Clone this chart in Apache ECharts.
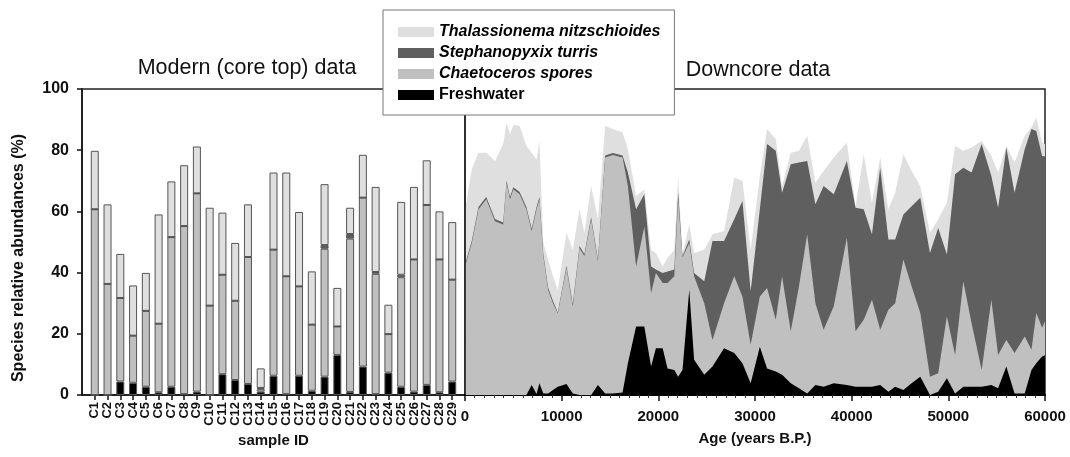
<!DOCTYPE html>
<html>
<head>
<meta charset="utf-8">
<script src="https://cdn.jsdelivr.net/npm/echarts@6/dist/echarts.min.js"></script>
<style>
  html, body { margin: 0; padding: 0; background: #fff; }
  #chart { width: 1070px; height: 457px; }
</style>
</head>
<body>
<div id="chart"></div>
<script>
// ---- Modern (core top) samples ----
const sampleIds = ['C1','C2','C3','C4','C5','C6','C7','C8','C9','C10','C11','C12','C13','C14','C15',
                   'C16','C17','C18','C19','C20','C21','C22','C23','C24','C25','C26','C27','C28','C29'];
const topFreshwater  = [0, 0, 4.4, 4.0, 2.7, 0.9, 2.7, 0.3, 1.1, 0, 6.8, 4.9, 3.6, 1.1, 6.3,
                        0.3, 6.3, 1.4, 6.0, 13.1, 1.0, 9.3, 0.3, 7.3, 2.7, 1.1, 3.3, 0.9, 4.4];
const topChaetoceros = [60.7, 36.3, 27.3, 15.4, 24.8, 22.4, 48.9, 54.9, 64.8, 29.2, 32.5, 25.9, 41.5, 0.8, 41.2,
                        38.5, 29.2, 21.6, 41.8, 9.3, 50.1, 55.2, 39.3, 12.6, 35.8, 43.2, 58.8, 43.4, 33.3];
const topStephano    = [0, 0, 0, 0, 0, 0, 0, 0, 0, 0, 0, 0, 0, 0.4, 0,
                        0, 0, 0, 1.2, 0, 1.5, 0, 0.6, 0, 0.8, 0, 0, 0, 0];
const topThalass     = [19.1, 26.0, 14.4, 16.4, 12.4, 35.7, 18.2, 19.9, 15.3, 32.0, 20.3, 18.9, 17.2, 6.4, 25.2,
                        33.9, 24.3, 17.4, 19.9, 12.6, 8.6, 14.0, 27.8, 9.6, 23.8, 23.7, 14.6, 15.7, 18.8];

// ---- Downcore record (age in years B.P.) ----
const ages = [100, 700, 1400, 2200, 3100, 3950, 4300, 4650, 5000, 5650, 6350, 6900, 7400, 7700, 8100,
              8600, 9100, 9600, 10500, 11150, 11850, 12350, 13050, 13750, 14500, 15300, 16300, 16850, 17700, 18550,
              19250, 19750, 20450, 20950, 21650, 22050, 22500, 23200, 23700, 24750, 25600, 26800, 27850, 28700, 29550,
              30500, 31250, 32150, 32800, 33700, 34550, 35400, 36250, 37100, 38150, 39500, 40400, 41250, 42100, 42950,
              43800, 44500, 45350, 46200, 47100, 48100, 48950, 49850, 50700, 51550, 52400, 53450, 54450, 55150, 56000,
              56850, 57900, 58600, 59100, 59700, 60000];
const coreFreshwater = [0, 0, 0, 0, 0, 0, 0, 0, 0, 0, 0, 3.3, 0.3, 3.8, 0.5,
                        0.5, 1.6, 2.7, 3.6, 0.5, 0, 0, 0, 3.3, 0.5, 0.5, 0.8, 10.4, 22.4, 22.4,
                        9.3, 15.3, 15.3, 8.7, 8.2, 6.0, 8.2, 34.4, 11.5, 6.6, 9.3, 15.3, 13.7, 10.4, 3.8,
                        15.8, 8.7, 7.7, 6.6, 3.8, 2.2, 0.5, 3.3, 2.7, 3.8, 3.3, 2.7, 2.7, 2.7, 3.3,
                        1.1, 2.7, 1.6, 3.8, 6.0, 0, 1.1, 5.5, 0.5, 2.7, 2.7, 2.7, 3.3, 2.2, 9.3,
                        0.5, 0.5, 8.2, 10.4, 12.6, 13.0];
const coreChaetoceros = [43.0, 49.7, 60.7, 64.0, 56.8, 55.7, 69.4, 64.0, 67.2, 65.6, 60.7, 50.3, 60.4, 60.2, 44.9,
                         33.9, 28.4, 23.9, 37.9, 28.5, 48.0, 45.4, 57.4, 40.4, 77.1, 77.9, 76.8, 57.9, 19.6, 32.6,
                         24.0, 24.6, 21.3, 27.9, 30.6, 58.0, 36.8, 15.3, 27.3, 23.4, 8.7, 14.7, 25.1, 21.8, 12.6,
                         16.4, 26.3, 16.9, 32.2, 17.0, 33.3, 52.0, 26.7, 18.6, 25.2, 48.1, 18.1, 21.9, 28.4, 18.0,
                         26.8, 27.3, 42.7, 31.7, 20.8, 6.0, 6.0, 20.2, 12.6, 34.5, 20.8, 5.5, 27.8, 10.9, 8.7,
                         13.2, 18.6, 6.6, 16.4, 9.4, 11.0];
const coreStephano = [0.7, 0.7, 0.7, 0.7, 0.7, 0.7, 0.7, 0.7, 0.7, 0.7, 0.7, 0.7, 0.7, 0.7, 0.7,
                      0.7, 0.7, 0.4, 0.7, 0.7, 0.7, 0.7, 0.7, 0.7, 0.7, 0.7, 0.7, 4.4, 18.7, 10.6,
                      8.7, 1.1, 3.3, 3.8, 2.2, 2.1, 0.4, 1.1, 1.1, 7.2, 32.3, 20.3, 18.6, 31.2, 17.5,
                      28.5, 47.0, 55.2, 27.3, 54.6, 40.5, 24.0, 32.3, 47.0, 36.6, 25.1, 40.4, 36.1, 21.4, 53.0,
                      22.9, 20.8, 14.7, 26.2, 37.7, 40.4, 47.5, 20.2, 59.0, 37.1, 49.2, 73.8, 40.5, 48.1, 62.9,
                      52.4, 61.2, 72.1, 59.5, 56.1, 54.0];
const coreThalass = [18.3, 23.4, 17.8, 14.5, 19.0, 25.6, 18.9, 20.5, 20.3, 21.7, 20.0, 24.9, 15.6, 18.3, 3.6,
                     9.2, 8.1, 7.4, 10.8, 17.8, 12.0, 6.9, 10.2, 13.0, 9.7, 7.8, 7.5, 7.6, 4.3, 1.6,
                     5.5, 5.4, 2.1, 4.4, 6.5, 5.5, 0.5, 4.9, 6.5, 10.3, 2.2, 3.3, 13.6, 6.6, 13.6,
                     10.9, 4.9, 3.8, 2.2, 3.8, 3.8, 8.2, 7.1, 4.9, 12.0, 6.0, 0.5, 18.0, 10.3, 3.3,
                     9.9, 15.3, 19.7, 11.5, 3.8, 6.6, 2.8, 16.9, 9.3, 5.5, 8.2, 1.0, 6.5, 11.5, 0.5,
                     9.9, 4.4, 0.5, 4.4, 4.4, 4.0];

const ageTicks = [0, 10000, 20000, 30000, 40000, 50000, 60000];

const NAMES = {
  th: 'Thalassionema nitzschioides',
  st: 'Stephanopyxix turris',
  ch: 'Chaetoceros spores',
  fw: 'Freshwater'
};
const COLORS = { th: '#dfdfdf', st: '#5f5f5f', ch: '#c0c0c0', fw: '#000000' };

const FONT = '"Liberation Sans", Arial, sans-serif';
const INK = '#111';

// category axis padded with one empty slot each side, so bars sit inset from the frame
const paddedIds = [''].concat(sampleIds, ['']);
const pad = arr => ['-'].concat(arr, ['-']);

function barSeries(key, values) {
  return {
    name: NAMES[key], type: 'bar', stack: 'top', xAxisIndex: 0, yAxisIndex: 0,
    data: pad(values), barWidth: 8,
    itemStyle: { color: COLORS[key], borderColor: '#555', borderWidth: 1 },
    emphasis: { disabled: true }
  };
}

// Downcore layers: each band is filled from the axis up to the running total of the
// layers beneath it plus its own value; upper bands are drawn first so the lower ones cover them.
const coreLayers = [
  ['fw', coreFreshwater],
  ['ch', coreChaetoceros],
  ['st', coreStephano],
  ['th', coreThalass]
];
const running = ages.map(() => 0);
const coreBands = coreLayers.map(([key, values]) => {
  const tops = values.map((v, i) => (running[i] = +(running[i] + v).toFixed(2)));
  return { key, tops };
});

function areaSeries(band, z) {
  return {
    name: NAMES[band.key], type: 'line', xAxisIndex: 1, yAxisIndex: 1, z: z,
    data: ages.map((a, i) => [a, band.tops[i]]),
    symbol: 'none', showSymbol: false, lineStyle: { width: 0 },
    itemStyle: { color: COLORS[band.key] },
    areaStyle: { color: COLORS[band.key], opacity: 1, origin: 'start' },
    emphasis: { disabled: true }
  };
}

const chart = echarts.init(document.getElementById('chart'), null, { renderer: 'canvas' });

chart.setOption({
  animation: false,
  backgroundColor: '#fff',
  textStyle: { fontFamily: FONT },
  grid: [
    { left: 82, top: 89, width: 383, height: 306, show: true, borderColor: '#222', borderWidth: 1.5, backgroundColor: 'transparent' },
    { left: 465, top: 89, width: 580, height: 306, show: true, borderColor: '#222', borderWidth: 1.5, backgroundColor: 'transparent' }
  ],
  legend: {
    data: [NAMES.th, NAMES.st, NAMES.ch, NAMES.fw],
    orient: 'vertical', left: 383, top: 10,
    padding: [14, 14, 12, 15],
    itemWidth: 36, itemHeight: 10, itemGap: 5,
    icon: 'rect',
    itemStyle: { borderWidth: 0 },
    backgroundColor: '#fff', borderColor: '#777', borderWidth: 1,
    selectedMode: false, z: 20,
    formatter: name => name === NAMES.fw ? '{n|' + name + '}' : '{i|' + name + '}',
    textStyle: {
      rich: {
        i: { fontFamily: FONT, fontSize: 16, fontWeight: 'bold', fontStyle: 'italic', color: '#000', lineHeight: 16 },
        n: { fontFamily: FONT, fontSize: 16, fontWeight: 'bold', color: '#000', lineHeight: 16 }
      }
    }
  },
  xAxis: [
    {
      type: 'category', gridIndex: 0, data: paddedIds, boundaryGap: false,
      name: 'sample ID', nameLocation: 'middle', nameGap: 38,
      nameTextStyle: { fontFamily: FONT, fontSize: 15, fontWeight: 'bold', color: INK },
      axisLine: { lineStyle: { color: '#111', width: 1.5 } },
      axisTick: { length: 5, interval: i => i > 0 && i < paddedIds.length - 1, lineStyle: { color: '#111', width: 1.5 } },
      axisLabel: { interval: 0, rotate: 90, margin: 7, fontFamily: FONT, fontSize: 13, fontWeight: 'bold', color: INK },
      splitLine: { show: false }
    },
    {
      type: 'value', gridIndex: 1, min: ageTicks[0], max: ageTicks[ageTicks.length - 1], interval: 10000,
      name: 'Age (years B.P.)', nameLocation: 'middle', nameGap: 36,
      nameTextStyle: { fontFamily: FONT, fontSize: 15, fontWeight: 'bold', color: INK },
      axisLine: { onZero: false, lineStyle: { color: '#000', width: 2 } },
      axisTick: { length: 6, lineStyle: { color: '#111', width: 1.5 } },
      minorTick: { show: true, splitNumber: 10, length: 3, lineStyle: { color: '#333' } },
      axisLabel: { margin: 14, fontFamily: FONT, fontSize: 15, fontWeight: 'bold', color: INK,
                   formatter: v => String(v) },
      splitLine: { show: false }
    }
  ],
  yAxis: [
    {
      type: 'value', gridIndex: 0, min: 0, max: 100, interval: 20,
      axisLine: { show: true, lineStyle: { color: '#111', width: 1.5 } },
      axisTick: { show: true, length: 5, lineStyle: { color: '#111', width: 1.5 } },
      axisLabel: { margin: 13, fontFamily: FONT, fontSize: 16, fontWeight: 'bold', color: INK },
      splitLine: { show: false }
    },
    {
      type: 'value', gridIndex: 1, min: 0, max: 100, interval: 20,
      axisLine: { show: false }, axisTick: { show: false }, axisLabel: { show: false },
      splitLine: { show: false }
    }
  ],
  graphic: [
    { type: 'text', x: 247, y: 68, style: { text: 'Modern (core top) data', fontFamily: FONT, fontSize: 21.5,
      fill: INK, textAlign: 'center', textVerticalAlign: 'middle' } },
    { type: 'text', x: 758, y: 70, style: { text: 'Downcore data', fontFamily: FONT, fontSize: 21.5,
      fill: INK, textAlign: 'center', textVerticalAlign: 'middle' } },
    { type: 'text', x: 19, y: 258, rotation: Math.PI / 2, style: { text: 'Species relative abundances (%)',
      fontFamily: FONT, fontSize: 16, fontWeight: 'bold', fill: INK, textAlign: 'center', textVerticalAlign: 'middle' } }
  ],
  series: [
    barSeries('fw', topFreshwater),
    barSeries('ch', topChaetoceros),
    barSeries('st', topStephano),
    barSeries('th', topThalass),
    areaSeries(coreBands[3], 2),
    areaSeries(coreBands[2], 3),
    areaSeries(coreBands[1], 4),
    areaSeries(coreBands[0], 5)
  ]
});
</script>
</body>
</html>
